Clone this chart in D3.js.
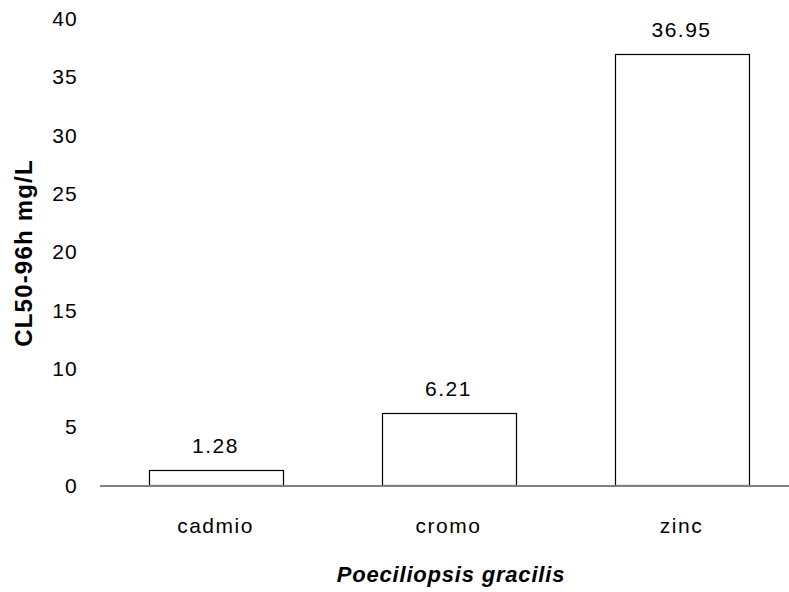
<!DOCTYPE html>
<html>
<head>
<meta charset="utf-8">
<script src="https://cdn.jsdelivr.net/npm/d3@7"></script>
<style>
  body { margin: 0; background: #fff; }
  text { font-family: "Liberation Sans", Arial, sans-serif; fill: #000; }
</style>
</head>
<body>
<div id="chart-area"></div>
<script>
// chart data
const categories = ["cadmio", "cromo", "zinc"];
const values = [1.28, 6.21, 36.95];
const valueLabels = ["1.28", "6.21", "36.95"];
const yTicks = [0, 5, 10, 15, 20, 25, 30, 35, 40];

const width = 789;
const height = 592;

const svg = d3.select("#chart-area")
    .append("svg")
    .attr("width", width)
    .attr("height", height);

const x = d3.scaleBand()
    .domain(categories)
    .range([99, 798])
    .paddingInner(0.425)
    .paddingOuter(0.2125);

const y = d3.scaleLinear()
    .domain([0, 40])
    .range([485, 18.5]);

// y tick labels, no axis line
svg.append("g")
    .selectAll("text")
    .data(yTicks)
    .join("text")
    .attr("x", 78)
    .attr("y", d => y(d))
    .attr("dy", "0.36em")
    .attr("text-anchor", "end")
    .attr("font-size", 21)
    .attr("letter-spacing", 1.2)
    .text(d => d);

// bars
svg.append("g")
    .selectAll("rect")
    .data(values)
    .join("rect")
    .attr("x", (d, i) => Math.round(x(categories[i])) + 0.5)
    .attr("y", d => Math.round(y(d)) + 0.5)
    .attr("width", Math.round(x.bandwidth()))
    .attr("height", d => y(0) - Math.round(y(d)))
    .attr("fill", "#fff")
    .attr("stroke", "#000")
    .attr("stroke-width", 1.2);

// value labels
svg.append("g")
    .selectAll("text")
    .data(values)
    .join("text")
    .attr("x", (d, i) => x(categories[i]) + x.bandwidth() / 2)
    .attr("y", d => y(d) - 17)
    .attr("text-anchor", "middle")
    .attr("font-size", 21)
    .attr("letter-spacing", 1.5)
    .text((d, i) => valueLabels[i]);

// x axis line
svg.append("line")
    .attr("x1", 100)
    .attr("x2", width)
    .attr("y1", 486)
    .attr("y2", 486)
    .attr("stroke", "#808080")
    .attr("stroke-width", 2);

// category labels
svg.append("g")
    .selectAll("text")
    .data(categories)
    .join("text")
    .attr("x", d => x(d) + x.bandwidth() / 2)
    .attr("y", 533)
    .attr("text-anchor", "middle")
    .attr("font-size", 21)
    .attr("letter-spacing", 1.5)
    .text(d => d);

// axis titles
svg.append("text")
    .attr("x", 451)
    .attr("y", 582)
    .attr("text-anchor", "middle")
    .attr("font-size", 22)
    .attr("font-weight", "bold")
    .attr("font-style", "italic")
    .attr("letter-spacing", 0.8)
    .text("Poeciliopsis gracilis");

svg.append("text")
    .attr("transform", "translate(32,253) rotate(-90)")
    .attr("text-anchor", "middle")
    .attr("font-size", 24)
    .attr("font-weight", "bold")
    .attr("letter-spacing", 1.2)
    .text("CL50-96h mg/L");
</script>
</body>
</html>
